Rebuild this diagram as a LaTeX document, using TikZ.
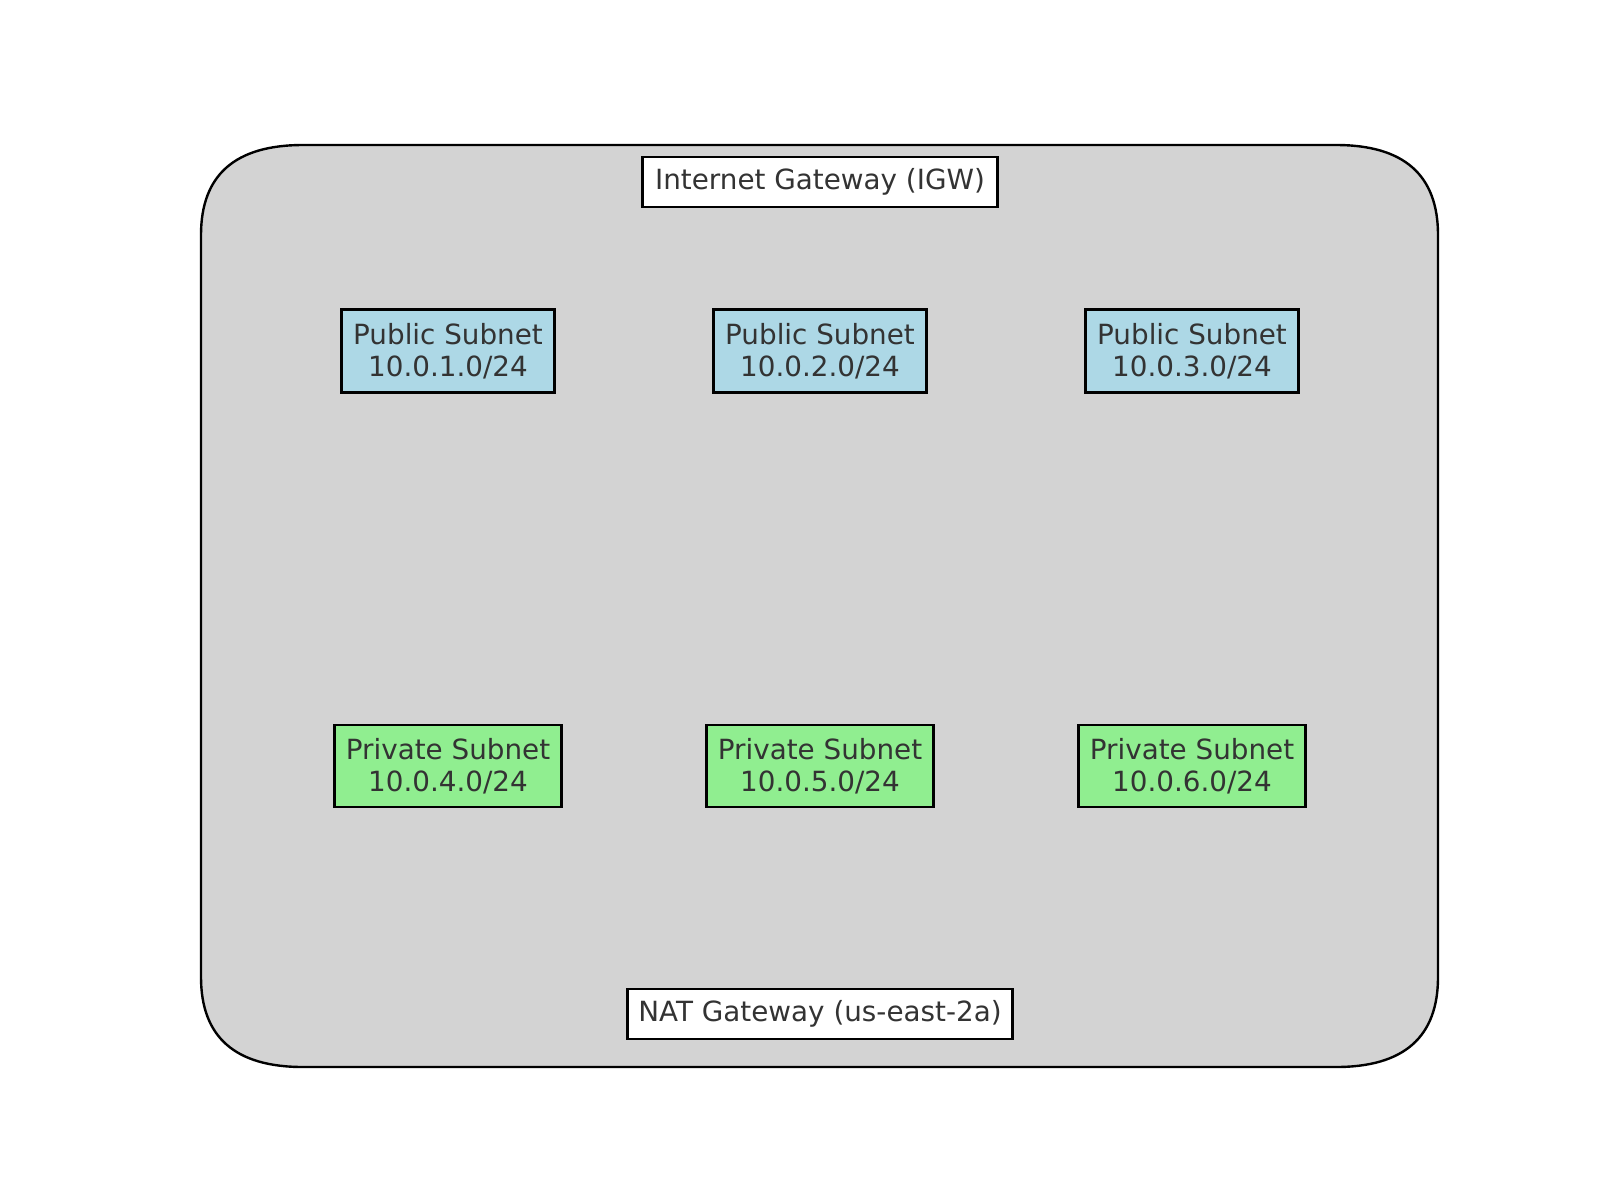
\documentclass[tikz,border=0pt]{standalone}
\usepackage{fontspec}
\setmainfont{DejaVu Sans}
\definecolor{txt}{HTML}{333333}
\definecolor{vpcfill}{HTML}{D3D3D3}
\definecolor{pubfill}{HTML}{ADD8E6}
\definecolor{privfill}{HTML}{90EE90}
\begin{document}
\begin{tikzpicture}[x=0.5pt,y=-0.5pt,
  boxbase/.style={draw=black, line width=1.3pt, inner sep=0pt, align=center,
    text=txt, font=\fontsize{13.9}{16.2}\selectfont},
  gwbox/.style={boxbase, fill=white, minimum height=25pt},
  pubbox/.style={boxbase, fill=pubfill, minimum width=106.5pt, minimum height=41.5pt},
  privbox/.style={boxbase, fill=privfill, minimum width=113.5pt, minimum height=41pt},
  vpc/.style={draw=black, line width=1.2pt, fill=vpcfill}]
\useasboundingbox (0,0) rectangle (1600,1200);
% corners: quadratic curves (rx=102, ry=90) written as cubics
\path[vpc] (201,235) .. controls (201,175) and (235,145) .. (303,145)
  -- (1336,145) .. controls (1404,145) and (1438,175) .. (1438,235)
  -- (1438,977) .. controls (1438,1037) and (1404,1067) .. (1336,1067)
  -- (303,1067) .. controls (235,1067) and (201,1037) .. (201,977) -- cycle;
\node[gwbox, minimum width=177.5pt] (igw) at (820,182) {Internet Gateway (IGW)};
\node[gwbox, minimum width=192.5pt] (nat) at (820,1014) {NAT Gateway (us-east-2a)};
\node[pubbox] (pub1) at (448,351) {Public Subnet\\10.0.1.0/24};
\node[pubbox] (pub2) at (820,351) {Public Subnet\\10.0.2.0/24};
\node[pubbox] (pub3) at (1192,351) {Public Subnet\\10.0.3.0/24};
\node[privbox] (priv1) at (448,766) {Private Subnet\\10.0.4.0/24};
\node[privbox] (priv2) at (820,766) {Private Subnet\\10.0.5.0/24};
\node[privbox] (priv3) at (1192,766) {Private Subnet\\10.0.6.0/24};
\end{tikzpicture}
\end{document}
